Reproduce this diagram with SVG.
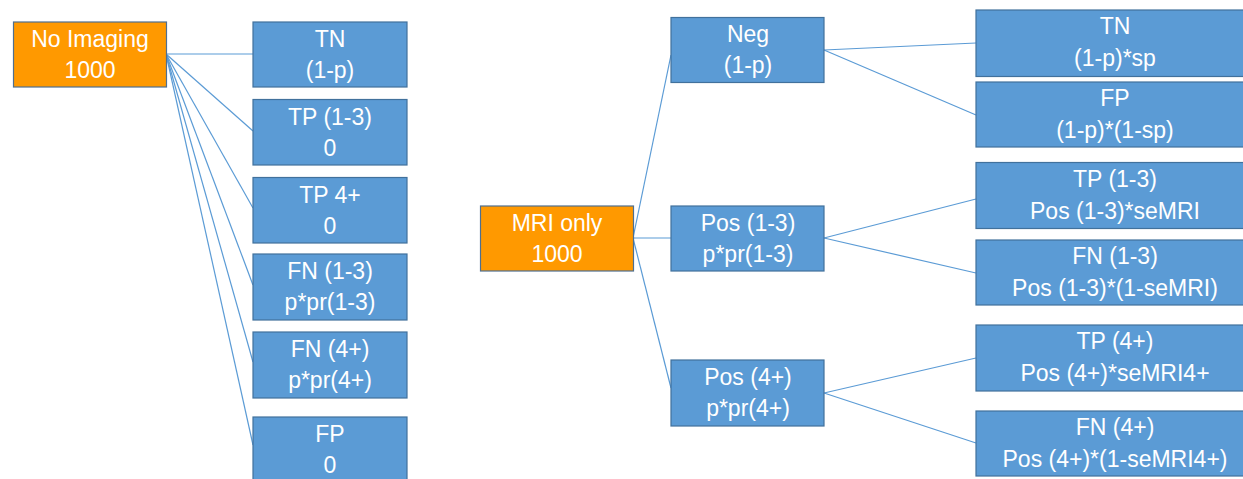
<svg xmlns="http://www.w3.org/2000/svg" width="1243" height="479" viewBox="0 0 1243 479">
  <style>
    .box { fill: #5B9BD5; stroke: #41719C; stroke-width: 1.2; }
    .root { fill: #FF9900; stroke: #4F6F8F; stroke-width: 1.2; }
    .lbl { font-family: "Liberation Sans", Arial, sans-serif; font-size: 23px; fill: #FFFFFF; text-anchor: middle; }
    .conn line { stroke: #5B9BD5; stroke-width: 1.2; }
  </style>
  <rect width="1243" height="479" fill="#FFFFFF"/>

  <!-- connectors -->
  <g id="connectors" class="conn">
    <line x1="166" y1="54" x2="253" y2="54"/>
    <line x1="166" y1="54" x2="253" y2="131"/>
    <line x1="166" y1="54" x2="253" y2="208"/>
    <line x1="166" y1="54" x2="253" y2="285"/>
    <line x1="166" y1="54" x2="253" y2="362"/>
    <line x1="166" y1="54" x2="253" y2="445"/>

    <line x1="633" y1="238" x2="671" y2="55"/>
    <line x1="633" y1="238" x2="671" y2="238"/>
    <line x1="633" y1="238" x2="671" y2="388"/>

    <line x1="824" y1="50" x2="976" y2="43"/>
    <line x1="824" y1="50" x2="976" y2="115"/>
    <line x1="824" y1="238" x2="976" y2="199"/>
    <line x1="824" y1="238" x2="976" y2="273"/>
    <line x1="824" y1="393" x2="976" y2="358"/>
    <line x1="824" y1="393" x2="976" y2="443"/>
  </g>

  <!-- left tree -->
  <g id="no-imaging">
    <rect class="root" x="13.5" y="22" width="153" height="65"/>
    <text class="lbl" x="90" y="47">No Imaging</text>
    <text class="lbl" x="90" y="78">1000</text>
  </g>
  <g id="ni-tn">
    <rect class="box" x="253" y="22" width="154" height="65"/>
    <text class="lbl" x="330" y="47">TN</text>
    <text class="lbl" x="330" y="78">(1-p)</text>
  </g>
  <g id="ni-tp13">
    <rect class="box" x="253" y="99.5" width="154" height="65.5"/>
    <text class="lbl" x="330" y="124.5">TP (1-3)</text>
    <text class="lbl" x="330" y="155.5">0</text>
  </g>
  <g id="ni-tp4">
    <rect class="box" x="253" y="177.5" width="154" height="65.5"/>
    <text class="lbl" x="330" y="202.5">TP 4+</text>
    <text class="lbl" x="330" y="233.5">0</text>
  </g>
  <g id="ni-fn13">
    <rect class="box" x="253" y="254" width="154" height="66"/>
    <text class="lbl" x="330" y="279">FN (1-3)</text>
    <text class="lbl" x="330" y="310">p*pr(1-3)</text>
  </g>
  <g id="ni-fn4">
    <rect class="box" x="253" y="332" width="154" height="66"/>
    <text class="lbl" x="330" y="357">FN (4+)</text>
    <text class="lbl" x="330" y="388">p*pr(4+)</text>
  </g>
  <g id="ni-fp">
    <rect class="box" x="253" y="417" width="154" height="66"/>
    <text class="lbl" x="330" y="442">FP</text>
    <text class="lbl" x="330" y="473">0</text>
  </g>

  <!-- right tree -->
  <g id="mri-only">
    <rect class="root" x="480.5" y="206" width="153" height="65"/>
    <text class="lbl" x="557" y="231">MRI only</text>
    <text class="lbl" x="557" y="262">1000</text>
  </g>
  <g id="neg">
    <rect class="box" x="671" y="17.5" width="153" height="65"/>
    <text class="lbl" x="748" y="42">Neg</text>
    <text class="lbl" x="748" y="73">(1-p)</text>
  </g>
  <g id="pos13">
    <rect class="box" x="671" y="206" width="153" height="65"/>
    <text class="lbl" x="748" y="231">Pos (1-3)</text>
    <text class="lbl" x="748" y="262">p*pr(1-3)</text>
  </g>
  <g id="pos4">
    <rect class="box" x="671" y="360" width="153" height="66"/>
    <text class="lbl" x="748" y="385">Pos (4+)</text>
    <text class="lbl" x="748" y="416">p*pr(4+)</text>
  </g>

  <g id="mri-tn">
    <rect class="box" x="976" y="10" width="280" height="66.5"/>
    <text class="lbl" x="1115" y="34">TN</text>
    <text class="lbl" x="1115" y="66">(1-p)*sp</text>
  </g>
  <g id="mri-fp">
    <rect class="box" x="976" y="82" width="280" height="65"/>
    <text class="lbl" x="1115" y="106">FP</text>
    <text class="lbl" x="1115" y="138">(1-p)*(1-sp)</text>
  </g>
  <g id="mri-tp13">
    <rect class="box" x="976" y="162.5" width="280" height="66"/>
    <text class="lbl" x="1115" y="187">TP (1-3)</text>
    <text class="lbl" x="1115" y="219">Pos (1-3)*seMRI</text>
  </g>
  <g id="mri-fn13">
    <rect class="box" x="976" y="240" width="280" height="65"/>
    <text class="lbl" x="1115" y="264">FN (1-3)</text>
    <text class="lbl" x="1115" y="296">Pos (1-3)*(1-seMRI)</text>
  </g>
  <g id="mri-tp4">
    <rect class="box" x="976" y="325" width="280" height="66"/>
    <text class="lbl" x="1115" y="349">TP (4+)</text>
    <text class="lbl" x="1115" y="381">Pos (4+)*seMRI4+</text>
  </g>
  <g id="mri-fn4">
    <rect class="box" x="976" y="411" width="280" height="65"/>
    <text class="lbl" x="1115" y="435">FN (4+)</text>
    <text class="lbl" x="1115" y="467">Pos (4+)*(1-seMRI4+)</text>
  </g>
</svg>
